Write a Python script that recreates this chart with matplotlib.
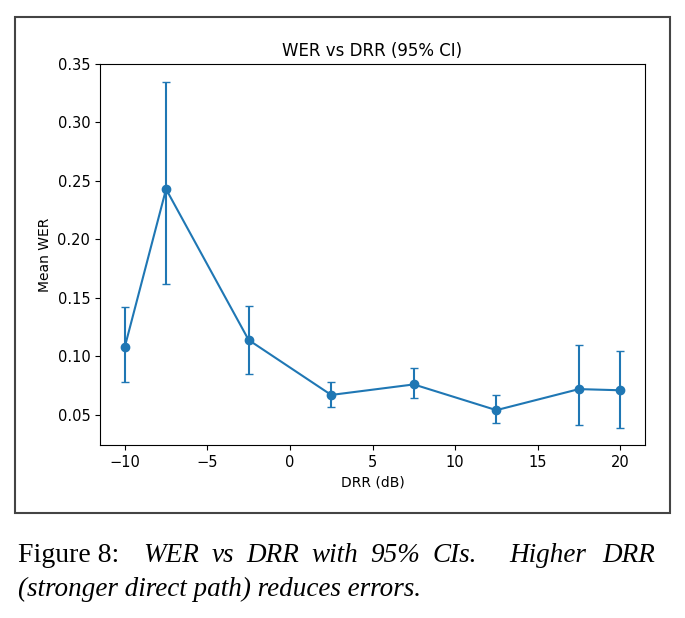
import numpy as np
import matplotlib
matplotlib.use("Agg")
import matplotlib.pyplot as plt
from matplotlib.patches import Rectangle

# DRR bins (dB) and mean WER with 95% CI bounds
drr = [-10, -7.5, -2.5, 2.5, 7.5, 12.5, 17.5, 20]
wer_mean = [0.108, 0.243, 0.114, 0.067, 0.076, 0.054, 0.072, 0.071]
ci_low = [0.078, 0.162, 0.085, 0.057, 0.064, 0.043, 0.041, 0.039]
ci_high = [0.142, 0.335, 0.143, 0.078, 0.090, 0.067, 0.110, 0.105]

# caption; first line is justified, so the words are spread over the width
caption_label = "Figure 8:"
caption_sentence1 = ["WER", "vs", "DRR", "with", "95%", "CIs."]
caption_sentence2 = ["Higher", "DRR"]
caption_line2 = "(stronger direct path) reduces errors."

W, H = 685, 618
fig = plt.figure(figsize=(W / 100, H / 100), dpi=100)

# frame around the embedded plot
fig.patches.append(Rectangle((15 / W, 1 - 513 / H), 655 / W, 496 / H,
                             transform=fig.transFigure, fill=False,
                             edgecolor="#444444", linewidth=1.5))

ax = fig.add_axes([100 / W, 1 - 445 / H, 545 / W, 381 / H])
mean = np.array(wer_mean)
yerr = [mean - np.array(ci_low), np.array(ci_high) - mean]
ax.errorbar(drr, mean, yerr=yerr, fmt="-o", color="#1f77b4", capsize=3,
            markersize=6, linewidth=1.5)
ax.set_title("WER vs DRR (95% CI)", fontsize=12)
ax.set_xlabel("DRR (dB)", fontsize=10)
ax.set_ylabel("Mean WER", fontsize=10)
ax.tick_params(labelsize=10.5)
ax.set_xticks([-10, -5, 0, 5, 10, 15, 20])
ax.set_yticks([0.05, 0.10, 0.15, 0.20, 0.25, 0.30, 0.35])

serif = "Liberation Serif"
y1, y2 = 1 - 556 / H, 1 - 589 / H
fs_it = 19.5
renderer = fig.canvas.get_renderer()


def spread(words, x0, x1):
    # place words so the first starts at x0 and the last ends at x1 (pixels)
    texts = [fig.text(0, y1, w, family=serif, style="italic", fontsize=fs_it, va="center")
             for w in words]
    widths = [t.get_window_extent(renderer).width for t in texts]
    gap = (x1 - x0 - sum(widths)) / max(len(words) - 1, 1)
    x = x0
    for t, w in zip(texts, widths):
        t.set_x(x / W)
        x += w + gap


fig.text(18 / W, y1, caption_label, family=serif, fontsize=20, va="center")
spread(caption_sentence1, 143, 477)
spread(caption_sentence2, 509, 655)
fig.text(18 / W, y2, caption_line2, family=serif, style="italic", fontsize=fs_it, va="center")

fig.savefig("out.png", dpi=100)
